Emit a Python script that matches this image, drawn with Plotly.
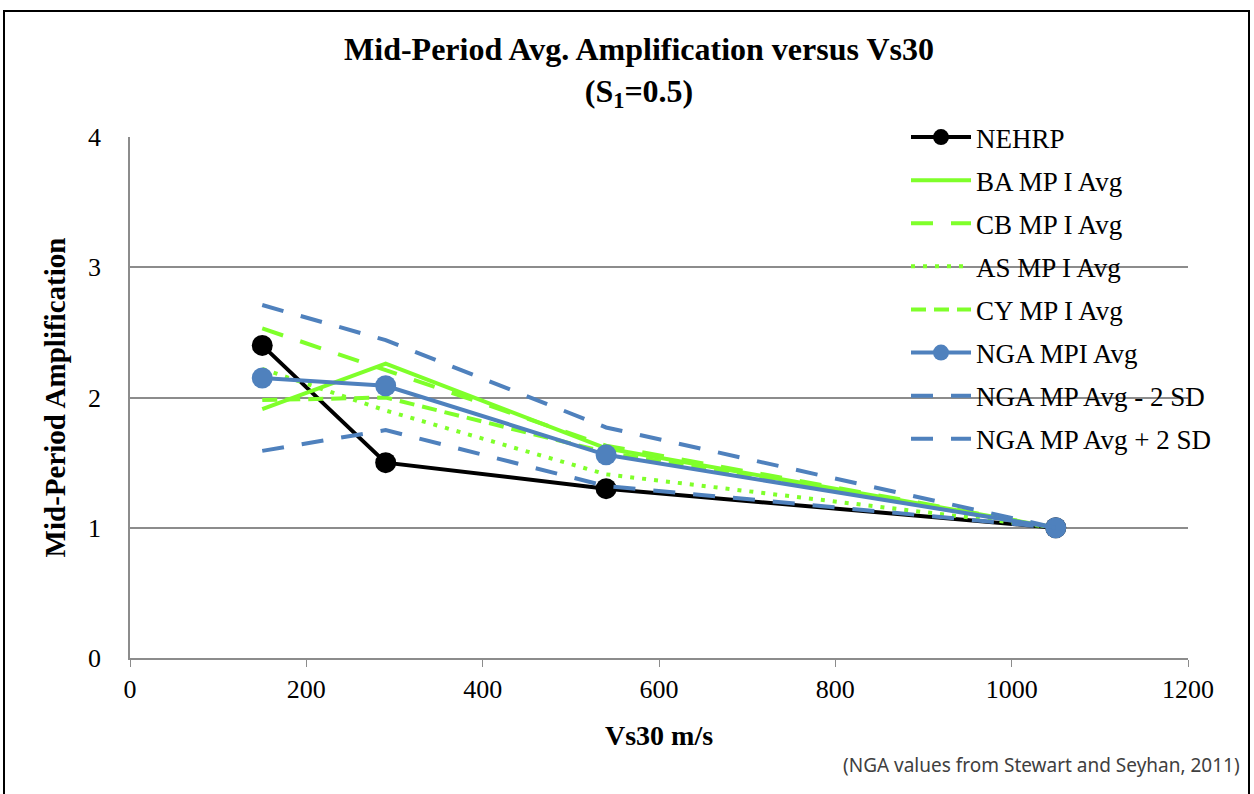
import plotly.graph_objects as go

vs30 = [150, 290, 540, 1050]
nehrp = [2.4, 1.5, 1.3, 1.0]
ba_mp = [1.91, 2.26, 1.61, 1.0]
cb_mp = [2.53, 2.21, 1.63, 1.0]
as_mp = [2.22, 1.90, 1.41, 1.0]
cy_mp = [1.98, 2.0, 1.58, 1.0]
nga_avg = [2.15, 2.09, 1.56, 1.0]
nga_minus = [1.59, 1.75, 1.32, 1.0]
nga_plus = [2.71, 2.44, 1.77, 1.0]

GREEN = "#7FFF2A"
BLUE = "#4F81BD"
SERIF = "Liberation Serif"

fig = go.Figure()
series = [
    ("NEHRP", nehrp, dict(color="black", width=4), dict(size=21, color="black")),
    ("BA MP I Avg", ba_mp, dict(color=GREEN, width=4), None),
    ("CB MP I Avg", cb_mp, dict(color=GREEN, width=4, dash="22px,18px"), None),
    ("AS MP I Avg", as_mp, dict(color=GREEN, width=4, dash="4px,8px"), None),
    ("CY MP I Avg", cy_mp, dict(color=GREEN, width=4, dash="15px,8px"), None),
    ("NGA MPI Avg", nga_avg, dict(color=BLUE, width=4), dict(size=21, color=BLUE)),
    ("NGA MP Avg - 2 SD", nga_minus, dict(color=BLUE, width=4, dash="22px,18px"), None),
    ("NGA MP Avg + 2 SD", nga_plus, dict(color=BLUE, width=4, dash="22px,18px"), None),
]
for i, (name, ys, line, marker) in enumerate(series):
    fig.add_trace(go.Scatter(
        x=vs30, y=ys, name=name, line=line,
        mode="lines+markers" if marker else "lines",
        marker=marker, legendgroup=f"g{i}",
    ))

fig.update_layout(
    width=1254, height=794,
    margin=dict(l=130, r=66, t=137, b=136),
    paper_bgcolor="white", plot_bgcolor="white",
    font=dict(family=SERIF, size=26, color="black"),
    title=dict(
        text="<b>Mid-Period Avg. Amplification versus Vs30<br>(S<sub>1</sub>=0.5)</b>",
        x=639/1254, xanchor="center", y=1 - 60/794, yanchor="middle",
        font=dict(family=SERIF, size=32, color="black"),
    ),
    xaxis=dict(
        range=[0, 1200], dtick=200, showgrid=False, zeroline=False,
        showline=True, linecolor="#8c8c8c", linewidth=1.5,
        ticks="outside", ticklen=7, tickcolor="#8c8c8c",
        tickfont=dict(family=SERIF, size=26),
        title=dict(text="<b>Vs30 m/s</b>", font=dict(family=SERIF, size=28), standoff=22),
    ),
    yaxis=dict(
        range=[0, 4], dtick=1, showgrid=True, gridcolor="#8c8c8c", gridwidth=1.5,
        zeroline=False, showline=True, linecolor="#8c8c8c", linewidth=1.5,
        ticks="", tickfont=dict(family=SERIF, size=26), ticklabelstandoff=22,
        title=dict(text="<b>Mid-Period Amplification</b>", font=dict(family=SERIF, size=29), standoff=14),
    ),
    legend=dict(
        x=(906 - 130) / 1058, xanchor="left", y=1 + 24/521, yanchor="top",
        bgcolor="rgba(0,0,0,0)", font=dict(family=SERIF, size=27),
        tracegroupgap=5, itemwidth=60,
    ),
    showlegend=True,
)

fig.add_annotation(
    text="(NGA values from Stewart and Seyhan, 2011)",
    xref="paper", yref="paper",
    x=(1242 - 130) / 1058, xanchor="right",
    y=(658 - 765) / 521, yanchor="middle",
    showarrow=False, font=dict(family="Noto Sans", size=19, color="#404040"),
)

fig.add_shape(
    type="rect", xref="paper", yref="paper",
    x0=(4 - 130) / 1058, x1=(1249 - 130) / 1058,
    y0=(658 - 800) / 521, y1=(658 - 11) / 521,
    line=dict(color="black", width=2), fillcolor="rgba(0,0,0,0)", layer="below",
)

fig.write_html("out.html")
